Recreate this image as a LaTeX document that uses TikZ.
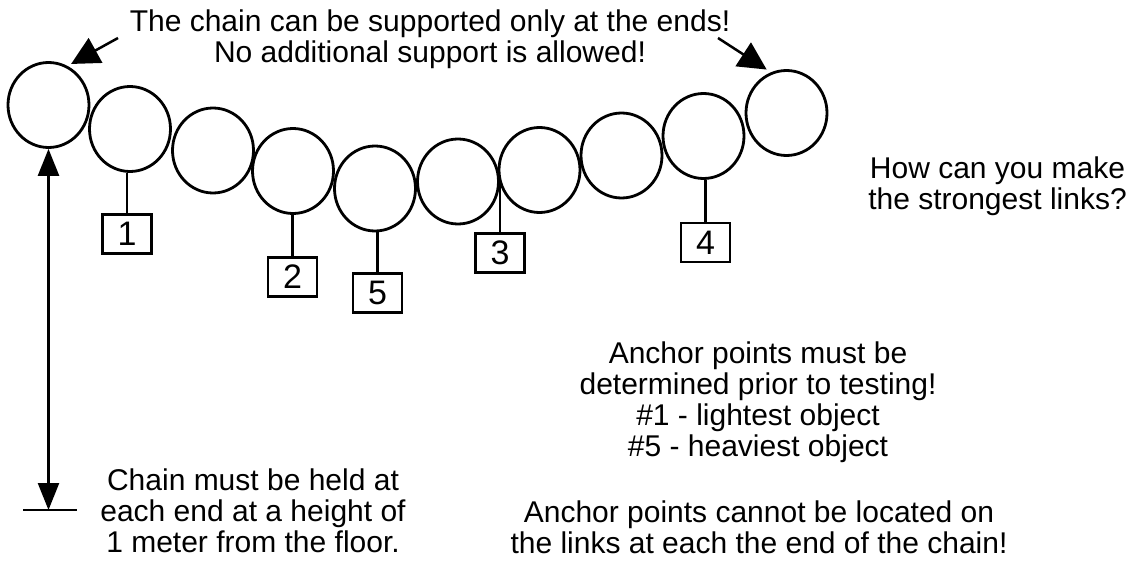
\documentclass[tikz,border=0pt]{standalone}
\usepackage{fontspec}
\setmainfont{Liberation Sans}
\usetikzlibrary{shapes.geometric,arrows.meta,calc}

\tikzset{
  link/.style={draw, ellipse, line width=2.8pt, minimum width=81pt, minimum height=85pt, inner sep=0pt},
  weight/.style={draw, rectangle, line width=2.6pt, minimum width=49pt, minimum height=39pt, inner sep=0pt,
                 font=\fontsize{34}{34}\selectfont},
  stem/.style={line width=2.6pt},
  pointer/.style={line width=2.5pt, -{Triangle[length=28pt,width=28pt]}},
  span/.style={line width=2.5pt, {Triangle[length=27pt,width=21pt]}-{Triangle[length=27pt,width=21pt]}},
  note/.style={align=center, anchor=base, inner sep=0pt, font=\fontsize{30}{31}\selectfont}
}

\begin{document}
\begin{tikzpicture}[x=1pt, y=-1pt]
  \useasboundingbox (0,0) rectangle (1138,561);

  % the chain of ten links, sagging between its two ends
  \node[link] (l1)  at (48.5,105)  {};
  \node[link] (l2)  at (130,129)   {};
  \node[link] (l3)  at (213,150.5) {};
  \node[link] (l4)  at (293,171)   {};
  \node[link] (l5)  at (375,188.5) {};
  \node[link] (l6)  at (458,181.5) {};
  \node[link] (l7)  at (539.5,170) {};
  \node[link] (l8)  at (621.5,155.5) {};
  \node[link] (l9)  at (703.5,136) {};
  \node[link] (l10) at (786.5,113) {};

  % hanging weights
  \node[weight] (b1) at (127,234)   {1};
  \node[weight] (b2) at (292.5,277) {2};
  \node[weight] (b5) at (377.5,293) {5};
  \node[weight] (b3) at (500,253)   {3};
  \node[weight] (b4) at (705.5,242.5) {4};

  \coordinate (j67) at ($(l6)!0.5!(l7)$);
  \draw[stem] (b1.north) -- (b1.north |- l2.south);
  \draw[stem] (b2.north) -- (b2.north |- l4.south);
  \draw[stem] (b5.north) -- (b5.north |- l5.south);
  \draw[stem] (b3.north) -- (b3.north |- j67);
  \draw[stem] (b4.north) -- (b4.north |- l9.south);

  % supports at the two ends
  \coordinate (tl) at (118,38);
  \coordinate (tr) at (718,38);
  \draw[pointer, shorten >=4pt] (tl) -- (l1.64);
  \draw[pointer, shorten >=5pt] (tr) -- (l10.111);

  % height above the floor
  \coordinate (floor) at (48.5,510);
  \coordinate (floorL) at (23,510);
  \coordinate (floorR) at (77,510);
  \draw[line width=2.5pt] (floorL) -- (floorR);
  \draw[span] (floor) -- (l1.south);

  % notes (each placed by the baseline of its last line)
  \node[note] (top) at (430,63) {The chain can be supported only at the ends!\\No additional support is allowed!};
  \node[note] (ask) at (997.5,210) {How can you make\\the strongest links?};
  \node[note] (hold) at (253,552) {Chain must be held at\\each end at a height of\\1 meter from the floor.};
  \node[note] (anch) at (758,456) {Anchor points must be\\determined prior to testing!\\\#1 - lightest object\\\#5 - heaviest object};
  \node[note] (ends) at (759,553) {Anchor points cannot be located on\\the links at each the end of the chain!};
\end{tikzpicture}
\end{document}
